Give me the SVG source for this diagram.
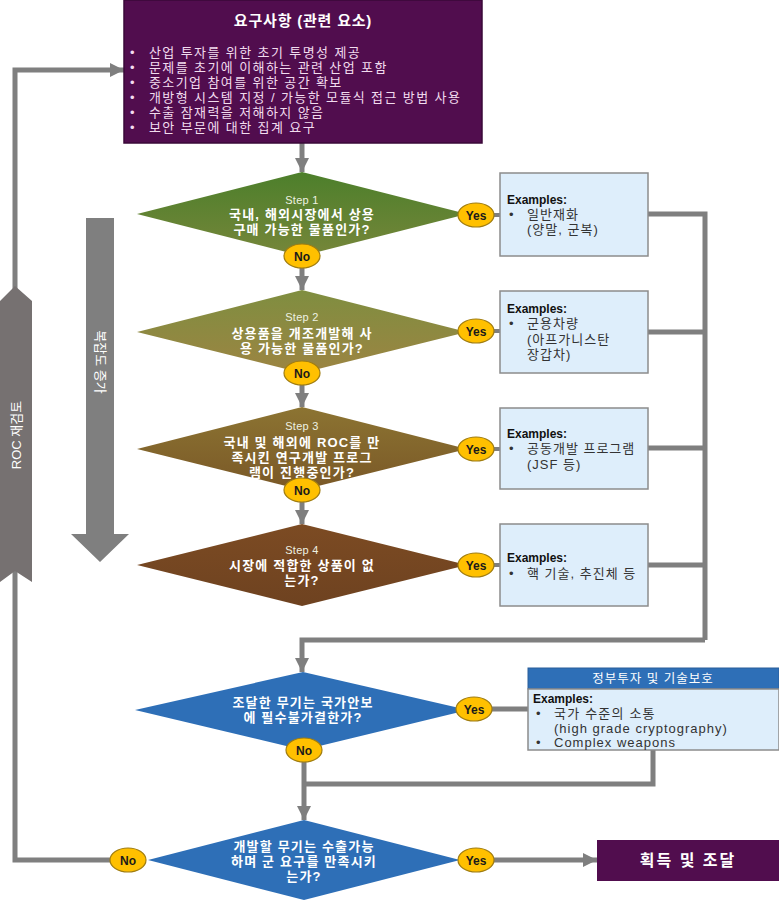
<svg xmlns="http://www.w3.org/2000/svg" width="779" height="902" viewBox="0 0 779 902">
<defs>
<style>
text{font-family:"Liberation Sans","Noto Sans CJK KR",sans-serif}
.conn{stroke:#7f7f7f;stroke-width:5;fill:none}
.thin{stroke:#7f7f7f;stroke-width:4;fill:none}
.q{font-size:13px;font-weight:bold;fill:#fff;text-anchor:middle;letter-spacing:1.2px}
.st{font-size:11px;font-weight:normal;fill:#eef2e2;letter-spacing:0.3px}
.ell{fill:#ffc000;stroke:#a07d10;stroke-width:1.2}
.el{font-size:12px;font-weight:bold;fill:#1a1a1a;text-anchor:middle}
.ex{fill:#deeefb;stroke:#8c8c8c;stroke-width:1.5}
.exb{font-size:13px;fill:#333;letter-spacing:1px}
.exh{font-size:12px;font-weight:bold;fill:#111;letter-spacing:0}
.bl{font-size:13px;fill:#f2dcef;letter-spacing:1.4px}
.blue{fill:#2e6fb7;stroke:#2a5f9a;stroke-width:1}
</style>
<marker id="ah" markerUnits="userSpaceOnUse" markerWidth="16" markerHeight="14" refX="14" refY="7" orient="auto">
<polygon points="0,0 14,7 0,14" fill="#7f7f7f"/>
</marker>
<linearGradient id="g1" x1="0" y1="0" x2="0" y2="1"><stop offset="0" stop-color="#4c7f2b"/><stop offset="1" stop-color="#76863a"/></linearGradient>
<linearGradient id="g2" x1="0" y1="0" x2="0" y2="1"><stop offset="0" stop-color="#7f8e40"/><stop offset="1" stop-color="#9c8442"/></linearGradient>
<linearGradient id="g3" x1="0" y1="0" x2="0" y2="1"><stop offset="0" stop-color="#8c7432"/><stop offset="1" stop-color="#7a5827"/></linearGradient>
<linearGradient id="g4" x1="0" y1="0" x2="0" y2="1"><stop offset="0" stop-color="#7c4b23"/><stop offset="1" stop-color="#6e4220"/></linearGradient>
</defs>
<rect width="779" height="902" fill="#fff"/>

<g id="connectors">
<line class="conn" x1="302" y1="143" x2="302" y2="172" marker-end="url(#ah)"/>
<line class="conn" x1="302" y1="266" x2="302" y2="290" marker-end="url(#ah)"/>
<line class="conn" x1="302" y1="383" x2="302" y2="407" marker-end="url(#ah)"/>
<line class="conn" x1="302" y1="500" x2="302" y2="524" marker-end="url(#ah)"/>
<line class="thin" x1="492" y1="215" x2="500" y2="215"/>
<line class="thin" x1="492" y1="331" x2="500" y2="331"/>
<line class="thin" x1="492" y1="449" x2="500" y2="449"/>
<line class="thin" x1="492" y1="565" x2="500" y2="565"/>
<polyline class="conn" points="648,214 705,214 705,640"/>
<line class="conn" x1="648" y1="332" x2="705" y2="332"/>
<line class="conn" x1="648" y1="448" x2="705" y2="448"/>
<line class="conn" x1="648" y1="565" x2="705" y2="565"/>
<polyline class="conn" points="705,640 302,640 302,672" marker-end="url(#ah)"/>
<line class="conn" x1="490" y1="709" x2="528" y2="709"/>
<line class="conn" x1="304" y1="760" x2="304" y2="820" marker-end="url(#ah)"/>
<polyline class="conn" points="653,750 653,784 304,784"/>
<line class="conn" x1="492" y1="860" x2="597" y2="860" marker-end="url(#ah)"/>
<polyline class="conn" points="112,860 15,860 15,70 124,70" marker-end="url(#ah)"/>
</g>

<g id="roc-review">
<polygon points="0,301 15,286 32,301 32,582 15,571 0,582" fill="#767171"/>
<text x="16" y="435" transform="rotate(-90 16 435)" font-size="13" fill="#fff" text-anchor="middle" dominant-baseline="central">ROC 재검토</text>
</g>

<g id="complexity">
<polygon points="86,218 114,218 114,534 129,534 100,562 71,534 86,534" fill="#7f7f7f"/>
<text x="100" y="362" transform="rotate(90 100 362)" font-size="13" fill="#fff" text-anchor="middle" dominant-baseline="central">복잡도 증가</text>
</g>

<g id="requirements">
<rect x="124" y="0" width="358" height="143" fill="#510d4e" stroke="#3a0838" stroke-width="1.5"/>
<text x="303" y="26" font-size="15" font-weight="bold" fill="#fff" text-anchor="middle" letter-spacing="0.8">요구사항 (관련 요소)</text>
<text class="bl">
<tspan x="130" y="56.5">•</tspan><tspan x="149" y="56.5">산업 투자를 위한 초기 투명성 제공</tspan>
<tspan x="130" y="71.5">•</tspan><tspan x="149" y="71.5">문제를 초기에 이해하는 관련 산업 포함</tspan>
<tspan x="130" y="86.5">•</tspan><tspan x="149" y="86.5">중소기업 참여를 위한 공간 확보</tspan>
<tspan x="130" y="101.5">•</tspan><tspan x="149" y="101.5">개방형 시스템 지정 / 가능한 모듈식 접근 방법 사용</tspan>
<tspan x="130" y="116.5">•</tspan><tspan x="149" y="116.5">수출 잠재력을 저해하지 않음</tspan>
<tspan x="130" y="131.5">•</tspan><tspan x="149" y="131.5">보안 부문에 대한 집계 요구</tspan>
</text>
</g>

<g id="step1">
<polygon points="302,172 467,214 302,256 137,214" fill="url(#g1)"/>
<text class="q"><tspan class="st" x="302" y="204">Step 1</tspan><tspan x="302" y="219">국내, 해외시장에서 상용</tspan><tspan x="302" y="234">구매 가능한 물품인가?</tspan></text>
</g>
<g id="step2">
<polygon points="302,290 467,332 302,373 137,332" fill="url(#g2)"/>
<text class="q"><tspan class="st" x="302" y="321">Step 2</tspan><tspan x="302" y="338">상용품을 개조개발해 사</tspan><tspan x="302" y="353">용 가능한 물품인가?</tspan></text>
</g>
<g id="step3">
<polygon points="302,407 467,449 302,490 137,449" fill="url(#g3)"/>
<text class="q"><tspan class="st" x="302" y="430">Step 3</tspan><tspan x="302" y="447">국내 및 해외에 ROC를 만</tspan><tspan x="302" y="462">족시킨 연구개발 프로그</tspan><tspan x="302" y="477">램이 진행중인가?</tspan></text>
</g>
<g id="step4">
<polygon points="302,524 467,565 302,606 137,565" fill="url(#g4)"/>
<text class="q"><tspan class="st" x="302" y="554">Step 4</tspan><tspan x="302" y="570">시장에 적합한 상품이 없</tspan><tspan x="302" y="585">는가?</tspan></text>
</g>
<g id="essential">
<polygon points="303,672 468,710 303,750 135,710" fill="#2e6fb7"/>
<text class="q"><tspan x="303" y="707">조달한 무기는 국가안보</tspan><tspan x="303" y="722">에 필수불가결한가?</tspan></text>
</g>
<g id="exportable">
<polygon points="304,820 460,860 304,900 148,860" fill="#2e6fb7"/>
<text class="q"><tspan x="304" y="851">개발할 무기는 수출가능</tspan><tspan x="304" y="866">하며 군 요구를 만족시키</tspan><tspan x="304" y="881">는가?</tspan></text>
</g>

<g id="labels">
<ellipse class="ell" cx="476" cy="215" rx="18" ry="12"/><text class="el" x="476" y="219.5">Yes</text>
<ellipse class="ell" cx="302" cy="256" rx="18" ry="12"/><text class="el" x="302" y="260.5">No</text>
<ellipse class="ell" cx="476" cy="331" rx="18" ry="12"/><text class="el" x="476" y="335.5">Yes</text>
<ellipse class="ell" cx="302" cy="373" rx="18" ry="12"/><text class="el" x="302" y="377.5">No</text>
<ellipse class="ell" cx="476" cy="449" rx="18" ry="12"/><text class="el" x="476" y="453.5">Yes</text>
<ellipse class="ell" cx="302" cy="490" rx="18" ry="12"/><text class="el" x="302" y="494.5">No</text>
<ellipse class="ell" cx="476" cy="565" rx="18" ry="12"/><text class="el" x="476" y="569.5">Yes</text>
<ellipse class="ell" cx="474" cy="709" rx="18" ry="12"/><text class="el" x="474" y="713.5">Yes</text>
<ellipse class="ell" cx="304" cy="750" rx="18" ry="12"/><text class="el" x="304" y="754.5">No</text>
<ellipse class="ell" cx="476" cy="860" rx="18" ry="12"/><text class="el" x="476" y="864.5">Yes</text>
<ellipse class="ell" cx="128" cy="860" rx="18" ry="12"/><text class="el" x="128" y="864.5">No</text>
</g>

<g id="ex1">
<rect class="ex" x="500" y="173" width="148" height="83"/>
<text class="exb"><tspan class="exh" x="507" y="204">Examples:</tspan><tspan x="509" y="219">•</tspan><tspan x="527" y="219">일반재화</tspan><tspan x="527" y="234">(양말, 군복)</tspan></text>
</g>
<g id="ex2">
<rect class="ex" x="500" y="291" width="148" height="82"/>
<text class="exb"><tspan class="exh" x="507" y="313">Examples:</tspan><tspan x="509" y="328">•</tspan><tspan x="527" y="328">군용차량</tspan><tspan x="527" y="344">(아프가니스탄</tspan><tspan x="527" y="359">장갑차)</tspan></text>
</g>
<g id="ex3">
<rect class="ex" x="500" y="408" width="148" height="81"/>
<text class="exb"><tspan class="exh" x="507" y="438">Examples:</tspan><tspan x="509" y="453">•</tspan><tspan x="527" y="453">공동개발 프로그램</tspan><tspan x="527" y="469">(JSF 등)</tspan></text>
</g>
<g id="ex4">
<rect class="ex" x="500" y="524" width="148" height="82"/>
<text class="exb"><tspan class="exh" x="507" y="562">Examples:</tspan><tspan x="509" y="578">•</tspan><tspan x="527" y="578">핵 기술, 추진체 등</tspan></text>
</g>
<g id="ex5">
<rect class="blue" x="528" y="668" width="251" height="21"/>
<text x="653" y="683" font-size="12.5" fill="#fff" text-anchor="middle" letter-spacing="1">정부투자 및 기술보호</text>
<rect class="ex" x="528" y="689" width="251" height="61"/>
<text class="exb" font-size="12" letter-spacing="0.3"><tspan class="exh" x="533" y="703">Examples:</tspan><tspan x="536" y="718">•</tspan><tspan x="554" y="718" letter-spacing="1.2">국가 수준의 소통</tspan><tspan x="554" y="732.5">(high grade cryptography)</tspan><tspan x="536" y="747">•</tspan><tspan x="554" y="747">Complex weapons</tspan></text>
</g>
<g id="acquisition">
<rect x="597" y="840" width="182" height="41" fill="#510d4e"/>
<text x="688" y="866" font-size="16" font-weight="bold" fill="#fff" text-anchor="middle" letter-spacing="2">획득 및 조달</text>
</g>
</svg>
